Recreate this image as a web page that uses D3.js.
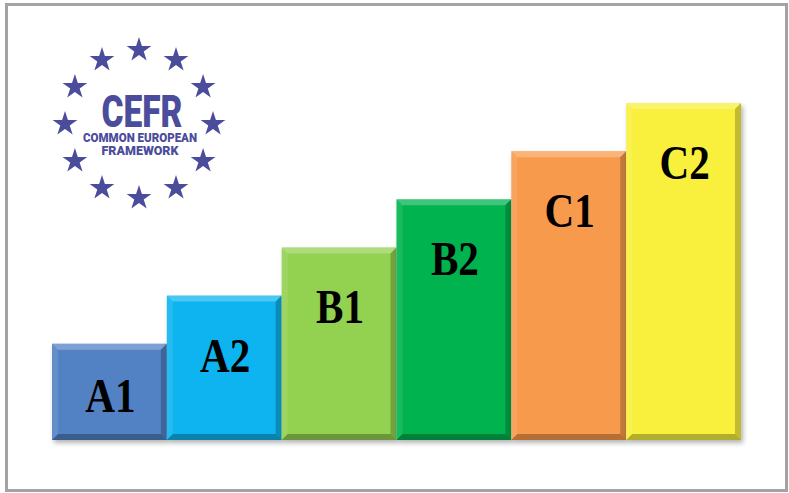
<!DOCTYPE html>
<html>
<head>
<meta charset="utf-8">
<script src="https://cdn.jsdelivr.net/npm/d3@7"></script>
<style>
  html, body { margin: 0; padding: 0; background: #fff; }
  svg { display: block; }
</style>
</head>
<body>
<svg id="chart"></svg>
<script>
// CEFR levels, step heights
const levels = ["A1", "A2", "B1", "B2", "C1", "C2"];
const steps = [2, 3, 4, 5, 6, 7];
const barColors = ["#5282c4", "#0ab4ef", "#93d151", "#06b34f", "#f89a4c", "#f8f03c"];
const logoTitle = "CEFR";
const logoLines = ["COMMON EUROPEAN", "FRAMEWORK"];

const width = 789, height = 493;
const margin = { top: 103, right: 48, bottom: 53, left: 52 };

const svg = d3.select("#chart")
    .attr("width", width)
    .attr("height", height);

// frame
svg.append("rect")
    .attr("x", 6.5).attr("y", 4.5)
    .attr("width", 780).attr("height", 486)
    .attr("fill", "#fff")
    .attr("stroke", "#a3a3a3")
    .attr("stroke-width", 3);

const defs = svg.append("defs");
const shadow = defs.append("filter").attr("id", "shadow")
    .attr("x", "-10%").attr("y", "-10%").attr("width", "130%").attr("height", "130%");
shadow.append("feGaussianBlur").attr("in", "SourceAlpha").attr("stdDeviation", 2.5);
shadow.append("feOffset").attr("dx", 2).attr("dy", 3).attr("result", "blur");
shadow.append("feComponentTransfer").append("feFuncA").attr("type", "linear").attr("slope", 0.3);
const merge = shadow.append("feMerge");
merge.append("feMergeNode");
merge.append("feMergeNode").attr("in", "SourceGraphic");

const x = d3.scaleBand()
    .domain(levels)
    .range([margin.left, width - margin.right])
    .padding(0);

const y = d3.scaleLinear()
    .domain([0, d3.max(steps)])
    .range([height - margin.bottom, margin.top]);

const bw = x.bandwidth();
const bevel = 6;

const bars = svg.append("g").selectAll(".bar")
    .data(levels.map((d, i) => ({ level: d, step: steps[i], color: barColors[i] })))
    .enter().append("g")
    .attr("class", "bar")
    .attr("transform", d => `translate(${x(d.level)},${y(d.step)})`)
    .each(function(d) {
        const g = d3.select(this);
        const h = y(0) - y(d.step);
        g.append("rect")
            .attr("width", bw).attr("height", h)
            .attr("fill", d.color)
            .attr("filter", "url(#shadow)");
        // bevel edges
        const edges = [
            { pts: [[0,0],[bw,0],[bw-bevel,bevel],[bevel,bevel]], fill: "#fff", op: 0.25 },
            { pts: [[0,0],[bevel,bevel],[bevel,h-bevel],[0,h]], fill: "#fff", op: 0.1 },
            { pts: [[bw,0],[bw,h],[bw-bevel,h-bevel],[bw-bevel,bevel]], fill: "#000", op: 0.22 },
            { pts: [[0,h],[bevel,h-bevel],[bw-bevel,h-bevel],[bw,h]], fill: "#000", op: 0.28 }
        ];
        g.selectAll("polygon")
            .data(edges)
            .enter().append("polygon")
            .attr("points", e => e.pts.map(p => p.join(",")).join(" "))
            .attr("fill", e => e.fill)
            .attr("fill-opacity", e => e.op);

        g.append("text")
            .text(d.level)
            .attr("transform", `translate(${bw / 2 + 1},${Math.min(76, h - 28)}) scale(0.84,1)`)
            .attr("text-anchor", "middle")
            .style("font-family", "'Liberation Serif', 'DejaVu Serif', serif")
            .style("font-weight", "bold")
            .style("font-size", "49px")
            .attr("fill", "#000");
    });

// CEFR logo: ring of 12 stars
const logo = svg.append("g").attr("transform", "translate(139,124)");
const star = d3.symbol().type(d3.symbolStar).size(190);
logo.selectAll(".star")
    .data(d3.range(12))
    .enter().append("path")
    .attr("class", "star")
    .attr("d", star)
    .attr("transform", i => {
        const a = i * Math.PI / 6;
        return `translate(${74 * Math.sin(a)},${-74 * Math.cos(a)})`;
    })
    .attr("fill", "#4b4d9c");

logo.append("text")
    .text(logoTitle)
    .attr("x", 3).attr("y", 3)
    .attr("text-anchor", "middle")
    .attr("textLength", 81)
    .attr("lengthAdjust", "spacingAndGlyphs")
    .style("font-family", "Roboto, 'Open Sans', sans-serif")
    .style("font-weight", 900)
    .style("font-size", "44px")
    .attr("fill", "#4b4d9c");

logo.selectAll(".sub")
    .data(logoLines)
    .enter().append("text")
    .attr("class", "sub")
    .text(d => d)
    .attr("x", 1)
    .attr("y", (d, i) => 18 + i * 12.5)
    .attr("text-anchor", "middle")
    .attr("textLength", (d, i) => i === 0 ? 114 : 77)
    .attr("lengthAdjust", "spacingAndGlyphs")
    .style("font-family", "Roboto, 'Open Sans', sans-serif")
    .style("font-weight", 900)
    .style("font-size", "13px")
    .attr("fill", "#4b4d9c");
</script>
</body>
</html>
